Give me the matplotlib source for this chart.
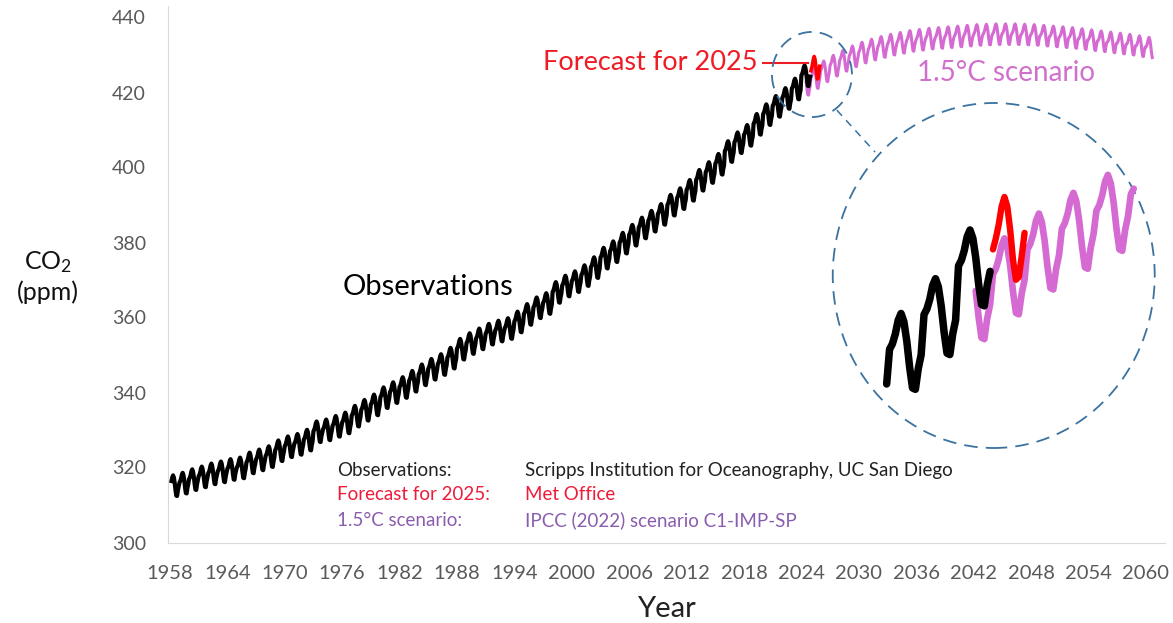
import numpy as np
import matplotlib.pyplot as plt
from matplotlib.patches import Ellipse

plt.rcParams['font.family'] = ['Lato', 'DejaVu Sans']
plt.rcParams['mathtext.fontset'] = 'custom'
plt.rcParams['mathtext.rm'] = 'Lato'
plt.rcParams['mathtext.default'] = 'regular'

# annual mean CO2 (ppm), observed record 1958-2024
obs_years = np.arange(1958, 2025)
obs_annual = [315.3, 315.98, 316.91, 317.64, 318.45, 318.99, 319.62, 320.04, 321.37, 322.18,
              323.05, 324.62, 325.68, 326.32, 327.46, 329.68, 330.19, 331.13, 332.03, 333.84,
              335.41, 336.84, 338.76, 340.12, 341.48, 343.15, 344.87, 346.35, 347.61, 349.31,
              351.69, 353.20, 354.45, 355.70, 356.54, 357.21, 358.96, 360.97, 362.74, 363.88,
              366.84, 368.54, 369.71, 371.32, 373.45, 375.98, 377.70, 379.98, 382.09, 384.02,
              385.83, 387.64, 390.10, 391.85, 394.06, 396.74, 398.81, 401.01, 404.41, 406.76,
              408.72, 411.66, 414.24, 416.45, 418.56, 421.08, 424.61]

# monthly forecast for 2025 (Jan..Dec)
forecast_2025 = [425.8, 426.6, 427.6, 428.9, 429.6, 428.9, 427.2, 425.0, 423.6, 423.8, 425.3, 427.0]

# 1.5C scenario annual means 2024-2060
scen_years = np.arange(2024, 2061)
scen_annual = [422.2, 424.0, 425.8, 427.3, 428.6, 429.8, 430.8, 431.6, 432.3, 432.9,
               433.4, 433.9, 434.2, 434.5, 434.7, 434.9, 435.1, 435.3, 435.5, 435.6,
               435.7, 435.7, 435.7, 435.6, 435.5, 435.3, 435.1, 434.9, 434.7, 434.4,
               434.1, 433.8, 433.5, 433.2, 432.9, 432.5, 432.1]

# mean seasonal cycle about the annual mean, Jan..Dec
seasonal = [0.0, 0.4, 1.1, 2.1, 2.6, 2.0, 0.6, -1.3, -2.8, -2.9, -1.4, -0.4]

x_ticks = np.arange(1958, 2061, 6)
y_ticks = np.arange(300, 441, 20)


def monthly(years, annual, first_month=0, last_month=11):
    t, v = [], []
    n = len(years)
    for i in range(n):
        m0 = first_month if i == 0 else 0
        m1 = last_month if i == n - 1 else 11
        for m in range(m0, m1 + 1):
            t.append(years[i] + m / 12.)
            v.append(annual[i] + seasonal[m])
    return np.array(t), np.array(v)


t_obs, co2_obs = monthly(obs_years, obs_annual, first_month=2)
t_scen, co2_scen = monthly(scen_years, scen_annual, first_month=6, last_month=8)
t_fc = 2025 + np.arange(12) / 12.
co2_fc = np.array(forecast_2025)

pink = '#D46AD2'
ring = '#3A72A0'
W, H = 1173, 623

fig = plt.figure(figsize=(W / 100., H / 100.), dpi=100)
ax = fig.add_axes([168. / W, 80.5 / H, 997. / W, 536.25 / H])

ax.plot(t_scen, co2_scen, color=pink, lw=2.2, zorder=2)
ax.plot(t_obs, co2_obs, color='black', lw=3.0, zorder=3)
ax.plot(t_fc, co2_fc, color='red', lw=2.6, zorder=4)

ax.set_xlim(1957.8, 2062)
ax.set_ylim(300, 443)
ax.set_xticks(x_ticks)
ax.set_yticks(y_ticks)
ax.tick_params(length=0, pad=16, labelsize=14, labelcolor='#595959')
ax.tick_params(axis='x', labelsize=14.5)
for s in ['top', 'right']:
    ax.spines[s].set_visible(False)
for s in ['left', 'bottom']:
    ax.spines[s].set_color('#D9D9D9')
ax.set_xlabel('Year', fontsize=21, color='#222222', labelpad=10)

fig.text(48. / W, 1 - 262. / H, 'CO$_2$', fontsize=18, ha='center', va='center', color='#111111')
fig.text(48. / W, 1 - 292. / H, '(ppm)', fontsize=18, ha='center', va='center', color='#111111')

# zoom rings and connector
dash = (0, (7.5, 4.5))
ax.add_patch(Ellipse((2025.1, 424.8), 8.36, 22.7, fill=False, ec=ring, lw=1.3,
                     ls=dash, clip_on=False, zorder=5))
ax.add_patch(Ellipse((2044.1, 371.2), 33.65, 92.0, fill=False, ec=ring, lw=1.3,
                     ls=dash, clip_on=False, zorder=5))
ax.plot([2027.7, 2031.7], [415.3, 404.1], color=ring, lw=1.1, ls=(0, (5, 4)), zorder=5)

# labels
ax.text(2019.45, 428.0, 'Forecast for 2025', color='#EE1C25', fontsize=19.5,
        ha='right', va='center')
ax.plot([2019.95, 2024.7], [427.9, 427.9], color='#EE1C25', lw=1.5, zorder=4)
ax.text(2036.1, 425.3, '1.5°C scenario', color='#D070CC', fontsize=20, ha='left', va='center')
ax.text(1976.1, 368.1, 'Observations', color='black', fontsize=21, ha='left', va='center')

src_left = ['Observations:', 'Forecast for 2025:', '1.5°C scenario:']
src_right = ['Scripps Institution for Oceanography, UC San Diego', 'Met Office',
             'IPCC (2022) scenario C1-IMP-SP']
src_colors = ['#222222', '#EE1C3A', '#8A5CAE']
src_y = [319.3, 312.7, 306.0]
for a, b, c, y in zip(src_left, src_right, src_colors, src_y):
    ax.text(1975.45, y, a, color=c, fontsize=13.5, ha='left', va='center')
    ax.text(1995.1, y, b, color=c, fontsize=13.5, ha='left', va='center')

# magnified view of 2022-2029
ax_in = fig.add_axes([833. / W, 175. / H, 322. / W, 345. / H])
ax_in.axis('off')
sel = (t_scen <= 2029.1)
ax_in.plot(t_scen[sel], co2_scen[sel], color=pink, lw=4.8, zorder=2,
           solid_capstyle='round', solid_joinstyle='round')
sel = (t_obs >= 2021.9)
ax_in.plot(t_obs[sel], co2_obs[sel], color='black', lw=5.4, zorder=3,
           solid_capstyle='round', solid_joinstyle='round')
ax_in.plot(t_fc, co2_fc, color='red', lw=4.6, zorder=4,
           solid_capstyle='round', solid_joinstyle='round')
ax_in.set_xlim(2020.36, 2029.70)
ax_in.set_ylim(411.41, 436.41)

fig.savefig('out.png', dpi=100, facecolor='white')
